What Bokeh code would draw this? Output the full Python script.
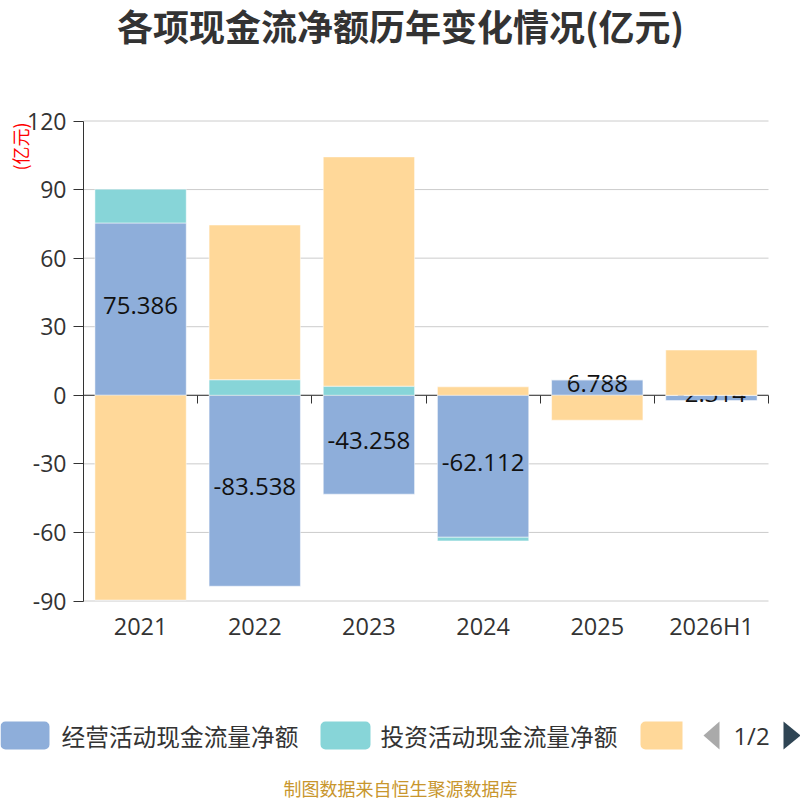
import numpy as np
from bokeh.plotting import figure
from bokeh.models import (Range1d, LinearAxis, FixedTicker, Label,
                          BoxAnnotation, PolyAnnotation, ColumnDataSource)
from bokeh.core.properties import value
from bokeh.embed import file_html
from bokeh.resources import INLINE

# ---- data ----
categories = ["2021", "2022", "2023", "2024", "2025", "2026H1"]
operating = [75.386, -83.538, -43.258, -62.112, 6.788, -2.314]
investing = [14.8, 6.8, 4.0, -1.6, 0.0, 0.0]
financing = [-89.6, 67.7, 100.3, 3.7, -10.9, 19.8]
series_names = ["经营活动现金流量净额", "投资活动现金流量净额", "筹资活动现金流量净额"]
colors = ["#8eaeda", "#87d5d8", "#ffd899"]
y_ticks = [-90, -60, -30, 0, 30, 60, 90, 120]
title_text = "各项现金流净额历年变化情况(亿元)"
unit_text = "(亿元)"
footer_text = "制图数据来自恒生聚源数据库"
pager_text = "1/2"

NUM_FONT = "Open Sans"
CJK_FONT = "Noto Sans CJK SC"

# ---- layout (pixels on the 800x800 canvas) ----
W = H = 800
PX_L, PX_R, PX_T, PX_B = 83.0, 768.0, 120.5, 600.5   # chart area

n = len(categories)
centers = [i + 0.5 for i in range(n)]
y_min, y_max = y_ticks[0], y_ticks[-1]
sx = (PX_R - PX_L) / n
sy = (PX_B - PX_T) / (y_max - y_min)

p = figure(width=W, height=H,
           x_range=Range1d(0 - PX_L / sx, n + (W - PX_R) / sx),
           y_range=Range1d(y_min - (H - PX_B) / sy, y_max + PX_T / sy),
           x_axis_location=None, y_axis_location=None,
           output_backend="svg", toolbar_location=None)
p.min_border = 0
p.outline_line_color = None
p.background_fill_color = "white"
p.border_fill_color = "white"
p.grid.visible = False

# grid lines across the chart area
grid_src = ColumnDataSource(dict(y=y_ticks))
p.segment(x0=0, x1=n, y0="y", y1="y", source=grid_src,
          line_color="#cccccc", line_width=1)
# zero line (under the bars)
p.segment(x0=[0], x1=[n], y0=[0], y1=[0], line_color="#333333", line_width=1)

# stacked bars (positive and negative stacks separately)
pos = np.zeros(n)
neg = np.zeros(n)
for i, (vals, col) in enumerate(zip([operating, investing, financing], colors)):
    v = np.array(vals, dtype=float)
    bottom = np.where(v >= 0, pos, neg)
    top = bottom + v
    pos = np.where(v >= 0, top, pos)
    neg = np.where(v < 0, top, neg)
    src = ColumnDataSource(dict(x=centers, top=top, bottom=bottom,
                                mid=(top + bottom) / 2,
                                label=[f"{x:g}" for x in vals]))
    p.vbar(x="x", top="top", bottom="bottom", width=0.8, source=src,
           fill_color=col, line_color="white", line_width=1, line_alpha=0.5)
    if i == 0:
        p.text(x="x", y="mid", text="label", source=src, y_offset=-4,
               text_font=value(NUM_FONT), text_font_size="24px",
               text_color="#111111", text_align="center", text_baseline="middle")

# y axis
yax = LinearAxis(fixed_location=0, bounds=(y_min, y_max),
                 ticker=FixedTicker(ticks=y_ticks),
                 major_label_overrides={t: str(t) for t in y_ticks},
                 axis_line_color="#333333", major_tick_line_color="#333333",
                 major_tick_out=10, major_tick_in=0, minor_tick_line_color=None,
                 major_label_text_font_size="23px", major_label_text_color="#333333",
                 major_label_text_font=NUM_FONT, major_label_standoff=7)
p.add_layout(yax, "left")

# category labels at the bottom
xax = LinearAxis(fixed_location=y_min, bounds=(0, n),
                 ticker=FixedTicker(ticks=centers),
                 major_label_overrides={c: cat for c, cat in zip(centers, categories)},
                 axis_line_color=None, major_tick_line_color=None, minor_tick_line_color=None,
                 major_label_text_font_size="23.5px", major_label_text_color="#333333",
                 major_label_text_font=NUM_FONT, major_label_standoff=3)
p.add_layout(xax, "below")

# boundary ticks on the zero line
tick_axis = LinearAxis(fixed_location=0, bounds=(0, n),
                       ticker=FixedTicker(ticks=list(range(n + 1))),
                       axis_line_color=None, major_tick_line_color="#333333",
                       major_tick_out=8, major_tick_in=0, minor_tick_line_color=None,
                       major_label_overrides={i: "" for i in range(n + 1)})
p.add_layout(tick_axis, "below")


def lab(x, y, text, **kw):
    base = dict(x=x, y=H - y, x_units="screen", y_units="screen", text=text,
                text_baseline="middle")
    base.update(kw)
    p.add_layout(Label(**base))


def box(l, r, t, b, color, radius):
    p.add_layout(BoxAnnotation(left=l, right=r, top=H - t, bottom=H - b,
                               left_units="screen", right_units="screen",
                               top_units="screen", bottom_units="screen",
                               fill_color=color, fill_alpha=1.0, line_color=None,
                               border_radius=radius))


# title
lab(400, 24, title_text, text_font=CJK_FONT, text_font_size="36px",
    text_font_style="bold", text_color="#333333", text_align="center")
# unit name
lab(19, 146, unit_text, angle=np.pi / 2, text_font=CJK_FONT, text_font_size="18px",
    text_color="red", text_align="center")

# legend
box(0, 49, 721, 749, colors[0], 5)
lab(61, 735, series_names[0], text_font=CJK_FONT, text_font_size="23.7px",
    text_color="#333333", text_align="left")
box(320, 370, 721, 749, colors[1], 5)
lab(380, 735, series_names[1], text_font=CJK_FONT, text_font_size="23.7px",
    text_color="#333333", text_align="left")
box(640, 682, 721, 749, colors[2], (5, 0, 0, 5))

# pager
p.add_layout(PolyAnnotation(xs=[703, 719, 719], ys=[H - 735, H - 721, H - 749],
                            xs_units="screen", ys_units="screen",
                            fill_color="#aaaaaa", fill_alpha=1.0, line_color=None))
lab(751, 735, pager_text, text_font=NUM_FONT, text_font_size="24px",
    text_color="#333333", text_align="center")
p.add_layout(PolyAnnotation(xs=[800, 783, 783], ys=[H - 735, H - 721, H - 749],
                            xs_units="screen", ys_units="screen",
                            fill_color="#2f4554", fill_alpha=1.0, line_color=None))

# footer
lab(400, 787, footer_text, text_font=CJK_FONT, text_font_size="18px",
    text_color="#c8962d", text_align="center")

open("out.html", "w").write(file_html(p, INLINE))
